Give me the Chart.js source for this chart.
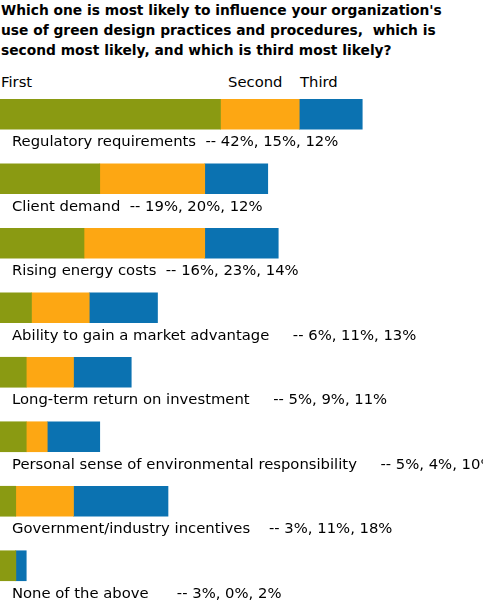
<!DOCTYPE html>
<html>
<head>
<meta charset="utf-8">
<script src="https://cdn.jsdelivr.net/npm/chart.js@4/dist/chart.umd.min.js"></script>
<style>
  body { margin: 0; background: #fff; }
  #wrap { position: relative; width: 483px; height: 602px; overflow: hidden; }
  #title {
    position: absolute; left: 1px; top: 0px; width: 482px; white-space: nowrap;
    font-family: "DejaVu Sans", sans-serif; font-weight: bold;
    font-size: 13.8px; line-height: 20px; color: #000;
  }
  .hdr {
    position: absolute; top: 73px; line-height: 17px;
    font-family: "DejaVu Sans", sans-serif; font-size: 14.8px; color: #000;
  }
  canvas { position: absolute; left: 0; top: 0; }
</style>
</head>
<body>
<div id="wrap">
  <div id="title">Which one is most likely to influence your organization's<br>use of green design practices and procedures,&nbsp; which is<br>second most likely, and which is third most likely?</div>
  <span class="hdr" style="left:1px">First</span>
  <span class="hdr" style="left:228px">Second</span>
  <span class="hdr" style="left:300px">Third</span>
  <canvas id="chart" width="483" height="602"></canvas>
</div>
<script>
const categories = [
  "Regulatory requirements",
  "Client demand",
  "Rising energy costs",
  "Ability to gain a market advantage",
  "Long-term return on investment",
  "Personal sense of environmental responsibility",
  "Government/industry incentives",
  "None of the above"
];
const gaps = [2, 2, 2, 5, 5, 5, 4, 6];

const first = [42, 19, 16, 6, 5, 5, 3, 3];
const second = [15, 20, 23, 11, 9, 4, 11, 0];
const third = [12, 12, 14, 13, 11, 10, 18, 2];

const labelPlugin = {
  id: "rowLabels",
  afterDatasetsDraw(chart) {
    const ctx = chart.ctx;
    const y = chart.scales.y;
    ctx.save();
    ctx.font = "14.8px 'DejaVu Sans', sans-serif";
    ctx.fillStyle = "#000";
    ctx.textBaseline = "middle";
    categories.forEach((c, i) => {
      const txt = c + " ".repeat(gaps[i]) + "-- " + first[i] + "%, " + second[i] + "%, " + third[i] + "%";
      ctx.fillText(txt, 12, y.getPixelForValue(i) + 28);
    });
    ctx.restore();
  }
};

new Chart(document.getElementById("chart"), {
  type: "bar",
  data: {
    labels: categories,
    datasets: [
      { label: "First", data: first, backgroundColor: "#8a9a12" },
      { label: "Second", data: second, backgroundColor: "#fda713" },
      { label: "Third", data: third, backgroundColor: "#0b72b1" }
    ]
  },
  options: {
    indexAxis: "y",
    responsive: false,
    animation: false,
    layout: { padding: { top: 82, bottom: 4, left: 0, right: 0 } },
    datasets: { bar: { barThickness: 30 } },
    plugins: { legend: { display: false }, tooltip: { enabled: false } },
    scales: {
      x: { stacked: true, min: 0, max: 92, display: false },
      y: { stacked: true, display: false }
    }
  },
  plugins: [labelPlugin]
});
</script>
</body>
</html>
